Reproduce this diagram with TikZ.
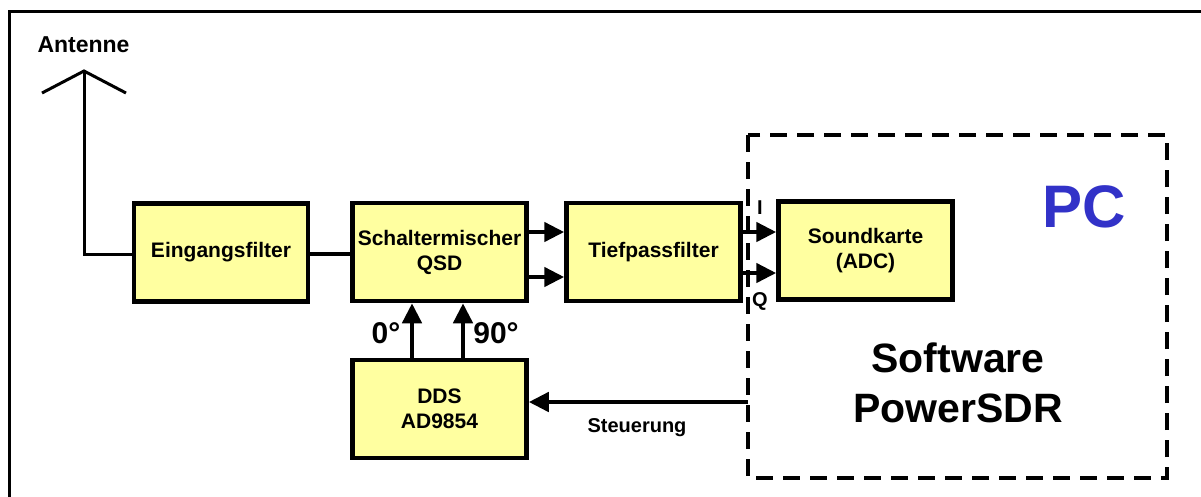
\documentclass[tikz,border=0pt]{standalone}
\usepackage{fontspec}
\setmainfont{Liberation Sans}
\usetikzlibrary{arrows.meta}
\definecolor{boxfill}{RGB}{255,255,160}
\definecolor{pcblue}{RGB}{50,50,200}
\tikzset{
  blk/.style={draw=black, fill=boxfill, line width=4.5pt, minimum width=174pt, minimum height=98pt,
    inner sep=0pt, align=center, font=\bfseries\fontsize{21}{25}\selectfont},
  conn/.style={line width=4.5pt},
  arr/.style={line width=4.5pt, -{Triangle[length=20pt,width=19pt]}},
  ant/.style={line width=3pt},
  lbl/.style={inner sep=0pt, font=\bfseries\fontsize{20}{25}\selectfont},
  dashbox/.style={line width=4.5pt, dash pattern=on 17pt off 10pt},
}
\begin{document}
\begin{tikzpicture}[x=1pt,y=-1pt]
\useasboundingbox (0,0) rectangle (1201,496);
\clip (0,0) rectangle (1201,496);
% outer frame
\coordinate (ftl) at (9,11);
\coordinate (ftr) at (1210,11);
\coordinate (fbl) at (9,505);
\draw[line width=3pt] (ftr) -- (ftl) -- (fbl);
% PC dashed box
\draw[dashbox] (748,135) rectangle (1167,478);
% blocks
\node[blk] (ein) at (221,252.5) {Eingangsfilter};
\node[blk] (sch) at (439.5,252) {Schaltermischer\\QSD};
\node[blk] (tp)  at (653.5,252) {Tiefpassfilter};
\node[blk] (snd) at (865.5,250.5) {Soundkarte\\(ADC)};
\node[blk] (dds) at (439.5,409) {DDS\\AD9854};
% antenna
\coordinate (atop) at (84,71);
\coordinate (al) at (42,93);
\coordinate (ar) at (126,93);
\coordinate (abot) at (84,254);
\draw[ant] (al) -- (atop) -- (ar);
\draw[ant] (atop) -- (abot) -- (ein.west |- abot);
\node[inner sep=0pt, font=\bfseries\fontsize{23}{26}\selectfont] (antlbl) at (83.5,45) {Antenne};
% connections
\draw[conn] (ein.east |- abot) -- (sch.west |- abot);
\draw[arr] ([yshift=20pt]sch.east) -- ([yshift=20pt]tp.west);
\draw[arr] ([yshift=-25pt]sch.east) -- ([yshift=-25pt]tp.west);
\draw[arr] ([yshift=20pt]tp.east) -- ([yshift=18.5pt]snd.west);
\draw[arr] ([yshift=-21pt]tp.east) -- ([yshift=-22.5pt]snd.west);
\draw[arr] ([xshift=-27.5pt]dds.north) -- ([xshift=-27.5pt]sch.south);
\draw[arr] ([xshift=23.5pt]dds.north) -- ([xshift=23.5pt]sch.south);
\coordinate (st) at (748,402);
\draw[arr] (st) -- (dds.east |- st);
% labels
\node[lbl, font=\bfseries\fontsize{30}{32}\selectfont] (deg0) at (386,333) {0°};
\node[lbl, font=\bfseries\fontsize{30}{32}\selectfont] (deg90) at (496,333) {90°};
\node[lbl] (ilbl) at (760,208) {I};
\node[lbl] (qlbl) at (760,301) {Q};
\node[lbl] (steu) at (637,428) {Steuerung};
\node[inner sep=0pt, text=pcblue, font=\bfseries\fontsize{60}{60}\selectfont] (pc) at (1084,207) {PC};
\node[inner sep=0pt, align=center, font=\bfseries\fontsize{41}{50}\selectfont] (sw) at (958,383) {Software\\PowerSDR};
\end{tikzpicture}
\end{document}
